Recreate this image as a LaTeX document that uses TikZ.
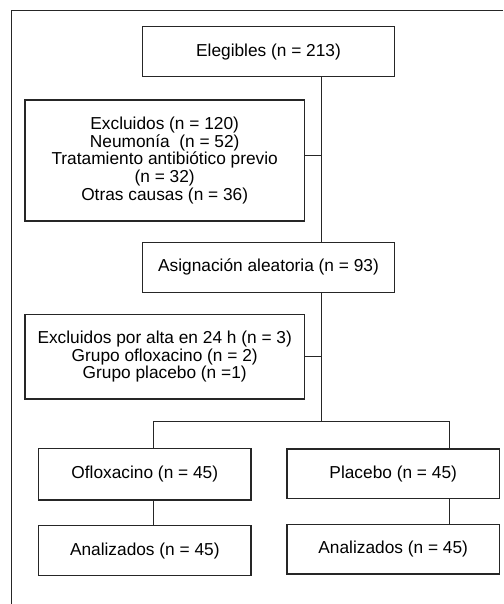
\documentclass[tikz,border=0pt]{standalone}
\usepackage{fontspec}
\setmainfont{Liberation Sans}
\usepackage{tikz}
\colorlet{ink}{black!85}
\newcommand{\drawbox}[1]{\node[draw=ink,line width=1.3pt,rectangle,align=center,inner sep=0pt,
  font=\fontsize{17.3}{17.7}\selectfont,#1]}
\newcommand{\drawdummy}{\node[minimum size=0,inner sep=0]}
\tikzset{wide/.style={minimum width=251.6pt,minimum height=50pt},
  exbox/.style={minimum width=279.3pt},
  arm/.style={minimum width=212.3pt,minimum height=50pt},
  link/.style={draw=ink,line width=1pt}}

\begin{document}
\begin{tikzpicture}[x=1pt,y=-1pt]
\useasboundingbox (0,0) rectangle (503,604);
%frame
\draw[ink,line width=1pt] (11.5,604) -- (11.5,11) -- (503,11);

\drawbox{wide} (eleg) at (268.5,51.7) {Elegibles (n = 213)};
\drawbox{exbox,minimum height=121pt} (excl) at (164.7,160.5) {Excluidos (n = 120)\\Neumonía~ (n = 52)\\Tratamiento antibiótico previo\\(n = 32)\\Otras causas (n = 36)};
\drawbox{wide} (asig) at (268.5,267.3) {Asignación aleatoria (n = 93)};
\drawbox{exbox,minimum height=84.7pt} (alta) at (164.7,356.7) {Excluidos por alta en 24 h (n = 3)\\Grupo ofloxacino (n = 2)\\Grupo placebo (n =1)};
\drawbox{arm,minimum height=51.7pt} (oflo) at (144.8,474.2) {Ofloxacino (n = 45)};
\drawbox{arm,minimum height=49.3pt} (plac) at (393.2,473.6) {Placebo (n = 45)};
\drawbox{arm} (anaO) at (144.8,550.7) {Analizados (n = 45)};
\drawbox{arm,minimum height=49.7pt} (anaP) at (393.2,549.2) {Analizados (n = 45)};

\drawdummy (trunk) at (321,0) {};
\drawdummy (exclJoin) at (321,155.7) {};
\drawdummy (altaJoin) at (321,356) {};
\drawdummy (split) at (321,421) {};
\drawdummy (splitL) at (153.5,421) {};
\drawdummy (splitR) at (449.5,421) {};

\draw[link] (eleg.south -| trunk) to (asig.north -| trunk);
\draw[link] (excl.east |- exclJoin) to (exclJoin);
\draw[link] (asig.south -| trunk) to (split);
\draw[link] (alta.east |- altaJoin) to (altaJoin);
\draw[link] (oflo.north -| splitL) to (splitL) to (splitR) to (plac.north -| splitR);
\draw[link] (oflo.south -| splitL) to (anaO.north -| splitL);
\draw[link] (plac.south -| splitR) to (anaP.north -| splitR);
\end{tikzpicture}
\end{document}
